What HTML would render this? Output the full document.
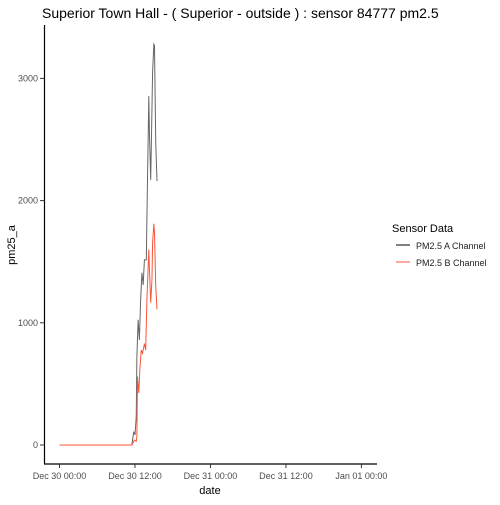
<!DOCTYPE html>
<html><head><meta charset="utf-8"><style>
body{margin:0;background:#fff;font-family:"Liberation Sans",sans-serif}
svg text{font-family:"Liberation Sans",sans-serif}
</style></head><body>
<svg width="500" height="500">
<text x="42" y="18" font-size="14" fill="#000">Superior Town Hall - ( Superior - outside ) : sensor 84777 pm2.5</text>
<g id="plot"></g>
<line x1="44.5" y1="25" x2="44.5" y2="464" stroke="#000" stroke-width="1.2"/>
<line x1="44" y1="464" x2="377" y2="464" stroke="#000" stroke-width="1.2"/>
<text x="210" y="494" font-size="11" text-anchor="middle">date</text>
<text transform="translate(15,245) rotate(-90)" font-size="11" text-anchor="middle">pm25_a</text>
<g>
<text x="392" y="232" font-size="11">Sensor Data</text>
<line x1="396" y1="245" x2="410" y2="245" stroke="#000"/>
<text x="416" y="249" font-size="9" fill="#222">PM2.5 A Channel</text>
<line x1="396" y1="262" x2="410" y2="262" stroke="#f8553a"/>
<text x="416" y="266" font-size="9" fill="#222">PM2.5 B Channel</text>
</g>
</svg>
<script>
const xTickHours=[0,12,24,36,48];
const xTickLabels=["Dec 30 00:00","Dec 30 12:00","Dec 31 00:00","Dec 31 12:00","Jan 01 00:00"];
const yTicks=[0,1000,2000,3000];
const hoursA=[0,3,11.5,11.8,12.0,12.2,12.3,12.5,12.7,12.9,13.1,13.3,13.5,13.8,14.0,14.2,14.3,14.5,14.6,14.8,15.0,15.1,15.3,15.5];
const valuesA=[0,0,0,109,82,232,713,1025,860,1190,1410,1310,1515,1515,2200,2855,2555,2170,2460,3050,3280,3270,2475,2160];
const hoursB=[0,11.5,11.9,12.2,12.3,12.4,12.6,12.8,13.0,13.2,13.5,13.7,13.9,14.2,14.3,14.5,14.7,14.8,15.0,15.1,15.3,15.5];
const valuesB=[0,0,40,30,67,560,425,641,777,750,830,777,1190,1600,1440,1165,1355,1655,1810,1740,1300,1110];
const xs=h=>59.5+h*6.29;
const ys=v=>445-v*0.1222;
const ns="http://www.w3.org/2000/svg";
const svg=document.querySelector('svg');
const plot=document.getElementById('plot');
xTickHours.forEach((h,i)=>{
 const t=document.createElementNS(ns,'line');
 t.setAttribute('x1',xs(h));t.setAttribute('x2',xs(h));t.setAttribute('y1',464);t.setAttribute('y2',468);t.setAttribute('stroke','#333');
 
 
 svg.appendChild(t);
 const l=document.createElementNS(ns,'text');
 l.setAttribute('x',xs(h));l.setAttribute('y',479);l.setAttribute('font-size','9');l.setAttribute('fill','#4d4d4d');l.setAttribute('text-anchor','middle');
 l.textContent=xTickLabels[i];
 
 
 svg.appendChild(l);
});
yTicks.forEach(v=>{
 const t=document.createElementNS(ns,'line');
 t.setAttribute('x1',40);t.setAttribute('x2',44.5);t.setAttribute('y1',ys(v));t.setAttribute('y2',ys(v));t.setAttribute('stroke','#333');
 
 
 svg.appendChild(t);
 const l=document.createElementNS(ns,'text');
 l.setAttribute('x',38);l.setAttribute('y',ys(v)+3);l.setAttribute('font-size','9');l.setAttribute('fill','#4d4d4d');l.setAttribute('text-anchor','end');
 l.textContent=v;
 
 
 svg.appendChild(l);
});
function draw(hs,vs,color,name){
 const p=document.createElementNS(ns,'polyline');
 p.setAttribute('points',hs.map((h,i)=>xs(h)+','+ys(vs[i])).join(' '));
 p.setAttribute('fill','none');p.setAttribute('stroke',color);p.setAttribute('stroke-width','1');
 
 
 plot.appendChild(p);
}
draw(hoursA,valuesA,'#666','series-a-line');
draw(hoursB,valuesB,'#f8553a','series-b-line');
</script>
</body></html>
